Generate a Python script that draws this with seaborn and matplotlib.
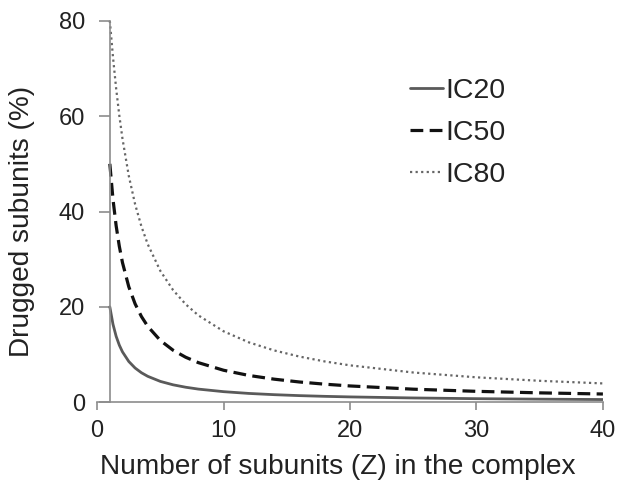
import matplotlib
matplotlib.use("Agg")
import matplotlib.pyplot as plt
import seaborn as sns
import pandas as pd

# number of subunits in the complex
z = [1, 1.25, 1.5, 1.75, 2, 2.5, 3, 3.5, 4, 5, 6, 7, 8, 10, 12, 14, 16, 18, 20, 25, 30, 35, 40]

# drugged subunits (%)
ic20 = [20, 16.35, 13.82, 11.97, 10.56, 8.54, 7.17, 6.18, 5.43, 4.36, 3.65, 3.14, 2.75,
        2.21, 1.84, 1.58, 1.38, 1.23, 1.11, 0.89, 0.74, 0.64, 0.56]
ic50 = [50, 42.57, 37.0, 32.71, 29.29, 24.21, 20.63, 17.97, 15.91, 12.94, 10.91, 9.43, 8.30,
        6.70, 5.61, 4.83, 4.24, 3.78, 3.41, 2.73, 2.28, 1.96, 1.72]
ic80 = [80, 72.4, 65.8, 60.13, 55.28, 47.47, 41.52, 36.86, 33.13, 27.52, 23.53, 20.54, 18.22,
        14.87, 12.55, 10.86, 9.57, 8.55, 7.73, 6.23, 5.22, 4.49, 3.94]

labels = ["IC20", "IC50", "IC80"]

df = pd.concat([
    pd.DataFrame({"Z": z, "pct": vals, "series": lab})
    for lab, vals in zip(labels, [ic20, ic50, ic80])
])

sns.set_style("white")
plt.rcParams['font.family'] = ['Liberation Sans', 'DejaVu Sans']

fig = plt.figure(figsize=(6.19, 4.84), dpi=100)
ax = fig.add_axes([0.157, 0.169, 0.817, 0.788])

styles = {
    "IC20": dict(color="#5a5a5a", linestyle="-", linewidth=2.0),
    "IC50": dict(color="#111111", linestyle=(0, (4, 2)), linewidth=2.3),
    "IC80": dict(color="#666666", linestyle=(0, (1, 1.5)), linewidth=1.6),
}
for lab in labels:
    sns.lineplot(data=df[df["series"] == lab], x="Z", y="pct", ax=ax,
                 label=lab, **styles[lab])

ax.set_xlim(0, 40)
ax.set_ylim(0, 80)
ax.set_xticks([0, 10, 20, 30, 40])
ax.set_yticks([0, 20, 40, 60, 80])

for side in ["top", "right"]:
    ax.spines[side].set_visible(False)
ax.spines["left"].set_position(("data", 1))
for side in ["left", "bottom"]:
    ax.spines[side].set_color("#8c8c8c")
    ax.spines[side].set_linewidth(1.2)

ax.tick_params(axis="both", direction="out", bottom=True, left=True, length=6, width=1.2,
               color="#8c8c8c", labelsize=17, labelcolor="#222222")
ax.tick_params(axis="x", pad=7)
ax.tick_params(axis="y", length=8, pad=10)

ax.set_xlabel("Number of subunits (Z) in the complex", fontsize=20.2, color="#222222")
ax.xaxis.set_label_coords(0.476, -0.135)
ax.set_ylabel("Drugged subunits (%)", fontsize=20.2, color="#222222")
ax.yaxis.set_label_coords(-0.122, 0.475)

leg = ax.legend(loc="upper left", bbox_to_anchor=(0.568, 0.918), frameon=False,
                fontsize=20.5, handlelength=1.15, handletextpad=0.1, labelspacing=0.57,
                labelcolor="#222222")

fig.savefig("out.png", dpi=100)
